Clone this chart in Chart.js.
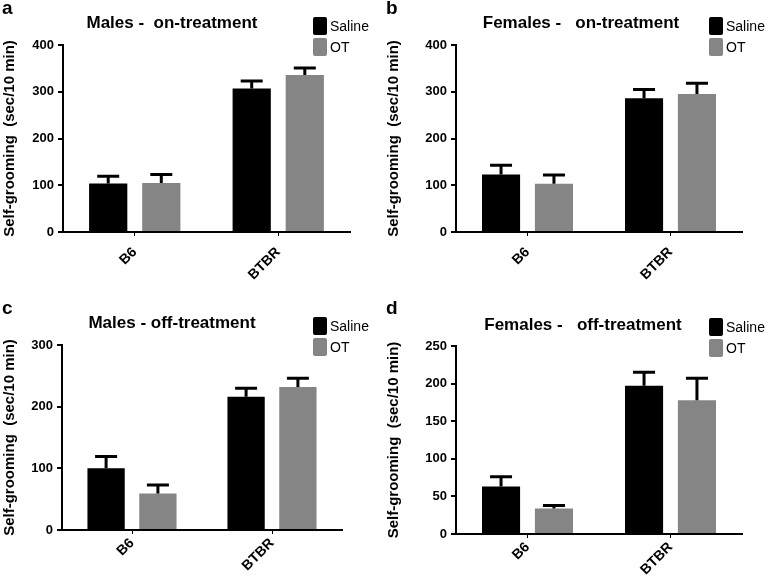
<html>
<head>
<meta charset="UTF-8">
<title>Self-grooming</title>
<script src="https://cdn.jsdelivr.net/npm/chart.js@4.4.1/dist/chart.umd.min.js"></script>
<style>
  body { margin: 0; background: #fff; font-family: "Liberation Sans", Arial, sans-serif; }
  #wrap { position: relative; width: 768px; height: 576px; overflow: hidden; }
  .panel { position: absolute; width: 384px; height: 288px; }
  .panel canvas { position: absolute; left: 0; top: 0; }
  .letter { position: absolute; font-weight: bold; font-size: 19px; }
  .ttl { position: absolute; font-weight: bold; font-size: 17px; white-space: pre; transform: translateX(-50%); }
  .leg { position: absolute; font-size: 14px; line-height: 21px; }
  .leg span.box { display: inline-block; width: 14px; height: 18px; border-radius: 2px; vertical-align: -4px; margin-right: 3px; }
</style>
</head>
<body>
<div id="wrap"></div>
<script>
// 値
var categories = ["B6", "BTBR"];
var seriesNames = ["Saline", "OT"];

var aSaline = [104, 307], aOT = [105, 336];
var aSalineErr = [15, 16], aOTErr = [18, 15];

var bSaline = [123, 286], bOT = [103, 295];
var bSalineErr = [20, 19], bOTErr = [19, 23];

var cSaline = [100, 216], cOT = [59, 232];
var cSalineErr = [19, 14], cOTErr = [14, 14];

var dSaline = [63, 197], dOT = [34, 178];
var dSalineErr = [13, 18], dOTErr = [4, 29];

var yMaxes = [400, 400, 300, 250];
var ySteps = [100, 100, 100, 50];
var titles = ["Males -  on-treatment", "Females -   on-treatment", "Males - off-treatment", "Females -   off-treatment"];
var letters = ["a", "b", "c", "d"];

var colors = ["#000000", "#858585"];

// パネル配置 (left, top, chartArea left/right/top/bottom, x-label padding)
var panels = [
  { x: 0,   y: 0,   l: 63, r: 350, t: 45, b: 232, xp: 8, sal: aSaline, ot: aOT, salE: aSalineErr, otE: aOTErr, lx: 313, ly: 16, tx: 172, ty: 13 },
  { x: 384, y: 0,   l: 72, r: 358, t: 45, b: 232, xp: 8, sal: bSaline, ot: bOT, salE: bSalineErr, otE: bOTErr, lx: 325, ly: 16, tx: 197, ty: 13 },
  { x: 0,   y: 288, l: 62, r: 342, t: 57, b: 242, xp: 1, sal: cSaline, ot: cOT, salE: cSalineErr, otE: cOTErr, lx: 313, ly: 28, tx: 172, ty: 25 },
  { x: 384, y: 288, l: 72, r: 358, t: 58, b: 246, xp: 1, sal: dSaline, ot: dOT, salE: dSalineErr, otE: dOTErr, lx: 325, ly: 29, tx: 199, ty: 27 }
];

// エラーバー描画
var errorBars = {
  id: "errorBars",
  afterDatasetsDraw: function(chart) {
    var ctx = chart.ctx;
    var ys = chart.scales.y;
    chart.data.datasets.forEach(function(ds, di) {
      var meta = chart.getDatasetMeta(di);
      meta.data.forEach(function(bar, i) {
        var top = ys.getPixelForValue(ds.data[i] + ds.err[i]);
        var base = ys.getPixelForValue(ds.data[i]);
        ctx.save();
        ctx.strokeStyle = "#000";
        ctx.lineWidth = 3;
        ctx.beginPath();
        ctx.moveTo(bar.x, base);
        ctx.lineTo(bar.x, top);
        ctx.moveTo(bar.x - 11, top);
        ctx.lineTo(bar.x + 11, top);
        ctx.stroke();
        ctx.restore();
      });
    });
  }
};

var wrap = document.getElementById("wrap");

panels.forEach(function(p, k) {
  var div = document.createElement("div");
  div.className = "panel";
  div.style.left = p.x + "px";
  div.style.top = p.y + "px";
  div.innerHTML =
    '<canvas width="384" height="288"></canvas>' +
    '<div class="letter" style="left:2px;top:' + (k < 2 ? -3 : 9) + 'px">' + letters[k] + '</div>' +
    '<div class="ttl" style="left:' + p.tx + 'px;top:' + p.ty + 'px">' + titles[k] + '</div>' +
    '<div class="leg" style="left:' + p.lx + 'px;top:' + p.ly + 'px">' +
      '<div><span class="box" style="background:' + colors[0] + '"></span>' + seriesNames[0] + '</div>' +
      '<div><span class="box" style="background:' + colors[1] + '"></span>' + seriesNames[1] + '</div>' +
    '</div>';
  wrap.appendChild(div);

  var ctx = div.querySelector("canvas").getContext("2d");
  new Chart(ctx, {
    type: "bar",
    data: {
      labels: categories,
      datasets: [
        { label: seriesNames[0], data: p.sal, err: p.salE, backgroundColor: colors[0] },
        { label: seriesNames[1], data: p.ot, err: p.otE, backgroundColor: colors[1] }
      ]
    },
    options: {
      responsive: false,
      animation: false,
      categoryPercentage: 0.74,
      barPercentage: 0.72,
      layout: { padding: { top: p.t, right: 384 - p.r, left: 0, bottom: 0 } },
      plugins: { legend: { display: false }, tooltip: { enabled: false } },
      scales: {
        x: {
          afterFit: function(s) { s.height = 288 - p.b; },
          border: { color: "#000", width: 2 },
          grid: { display: true, drawOnChartArea: false, offset: false, tickLength: 4, color: "#000", lineWidth: 1 },
          ticks: { color: "#000", minRotation: 45, maxRotation: 45, padding: p.xp, font: { family: "Liberation Sans", size: 14, weight: "bold" } }
        },
        y: {
          min: 0, max: yMaxes[k],
          afterFit: function(s) { s.width = p.l; },
          border: { color: "#000", width: 2 },
          grid: { display: true, drawOnChartArea: false, tickLength: 5, color: "#000", lineWidth: 2 },
          ticks: { stepSize: ySteps[k], color: "#000", padding: 4, font: { family: "Liberation Sans", size: 13, weight: "bold" } },
          title: { display: true, text: "Self-grooming  (sec/10 min)", color: "#000", padding: { top: 1, bottom: 0 },
                   font: { family: "Liberation Sans", size: 15, weight: "bold" } }
        }
      }
    },
    plugins: [errorBars]
  });
});
</script>
</body>
</html>
